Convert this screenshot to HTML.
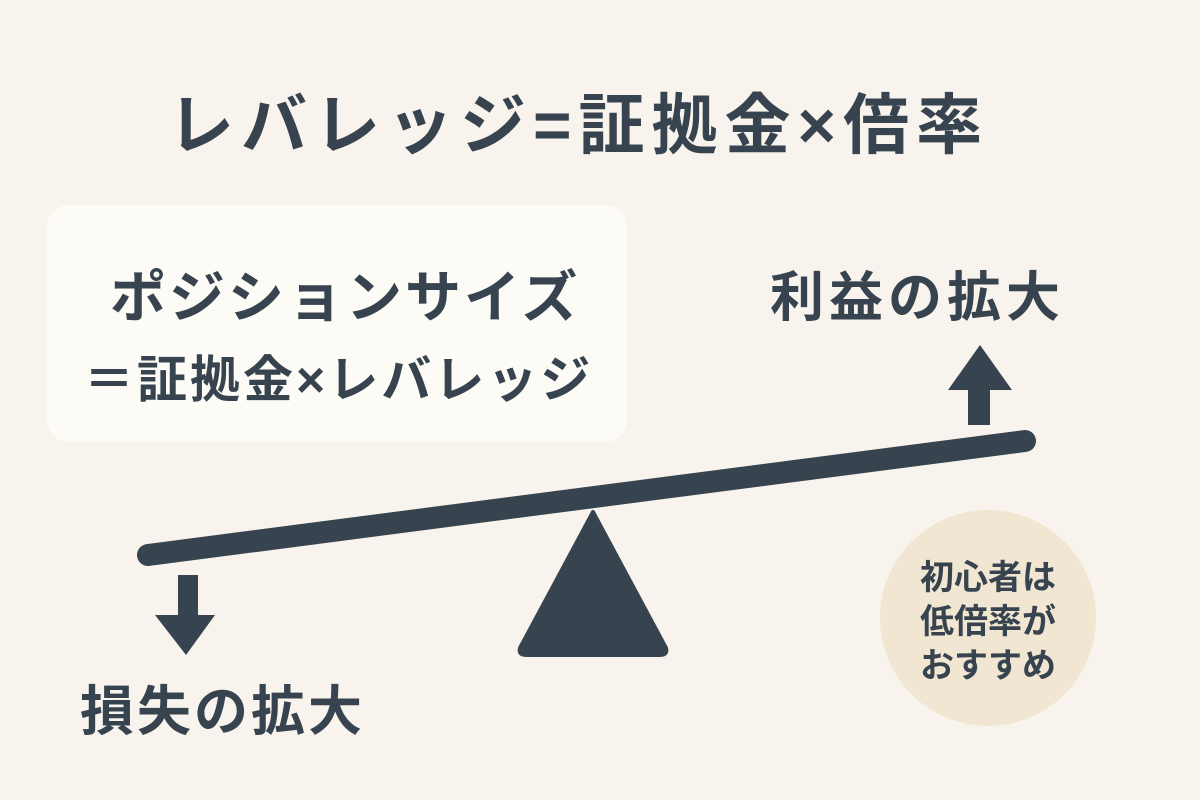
<!DOCTYPE html>
<html><head><meta charset="utf-8"><style>
html,body{margin:0;padding:0}
body{width:1200px;height:800px;background:#f8f3ec;position:relative;overflow:hidden;font-family:"Liberation Sans","Noto Sans CJK JP",sans-serif;color:#37444f;font-weight:bold}
.t{position:absolute;white-space:nowrap}
</style></head><body>
<div class="t" style="left:168px;top:72px;font-size:66px;letter-spacing:7px">レバレッジ=証拠金×倍率</div>
<div style="position:absolute;left:47px;top:205px;width:580px;height:237px;background:#fdfbf6;border-radius:22px"></div>
<div class="t" style="left:110px;top:253px;font-size:56px;letter-spacing:3px">ポジションサイズ</div>
<div class="t" style="left:84px;top:340px;font-size:50px;letter-spacing:3px">＝証拠金×レバレッジ</div>
<div class="t" style="left:770px;top:253px;font-size:54px;letter-spacing:5px">利益の拡大</div>
<div class="t" style="left:80px;top:667px;font-size:54px;letter-spacing:3px">損失の拡大</div>
<svg style="position:absolute;left:0;top:0" width="1200" height="800">
<circle cx="988" cy="618" r="108" fill="#f0e6d1"/>
<line x1="148" y1="555" x2="1025" y2="441" stroke="#37444f" stroke-width="22" stroke-linecap="round"/>
<path d="M593 512 L666 648 Q668 655 660 655 L526 655 Q518 655 520 648 Z" fill="#37444f" stroke="#37444f" stroke-width="4" stroke-linejoin="round"/>
<path d="M980 345 L1012 390 L990 390 L990 425 L968 425 L968 390 L948 390 Z" fill="#37444f"/>
<path d="M178 575 L198 575 L198 615 L215 615 L186 655 L155 615 L178 615 Z" fill="#37444f"/>
</svg>
<div class="t" style="left:918px;top:556px;font-size:34px;line-height:44px;text-align:center;width:140px">初心者は<br>低倍率が<br>おすすめ</div>
</body></html>
